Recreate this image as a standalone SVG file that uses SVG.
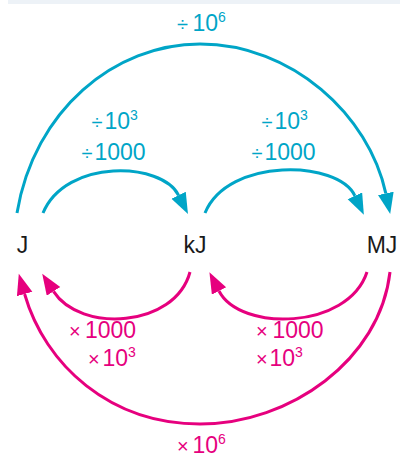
<svg xmlns="http://www.w3.org/2000/svg" width="400" height="458" viewBox="0 0 400 458">
<style>
  .t{font-family:"Liberation Sans",Arial,sans-serif;font-size:23px}
  .unit{fill:#1a1a1a;text-anchor:middle}
  .blue{fill:#00a5c7}
  .pink{fill:#e6007e}
  .sup{font-size:14px}
  .op{font-size:20px}
  .cb{fill:none;stroke:#00a5c7;stroke-width:3}
  .cp{fill:none;stroke:#e6007e;stroke-width:3}
</style>
<defs>
  <marker id="ab" markerUnits="userSpaceOnUse" markerWidth="22" markerHeight="18" refX="0" refY="8" orient="auto">
    <path d="M0,0 L21,8 L0,16 Z" fill="#00a5c7"/>
  </marker>
  <marker id="ap" markerUnits="userSpaceOnUse" markerWidth="22" markerHeight="18" refX="0" refY="8" orient="auto">
    <path d="M0,0 L21,8 L0,16 Z" fill="#e6007e"/>
  </marker>
</defs>
<rect x="8" y="0" width="392" height="4" fill="#edf2f7"/>
<g id="connectors">
  <path class="cb" d="M17,213 C34,110 115,44 200,44 C292,44 369,115 385.8,193.4" marker-end="url(#ab)"/>
  <path class="cb" d="M43,213 C66,158 162,162 178.6,195.3" marker-end="url(#ab)"/>
  <path class="cb" d="M205,213 C228,157 338,160 354.9,195.8" marker-end="url(#ab)"/>
  <path class="cp" d="M190,272 C175,328 80,333 53.5,291.4" marker-end="url(#ap)"/>
  <path class="cp" d="M367,272 C348,330 240,332 219,291" marker-end="url(#ap)"/>
  <path class="cp" d="M390,272 C380,360 290,424 200,424 C110,424 45,365 24.6,294" marker-end="url(#ap)"/>
</g>
<g id="labels">
  <text class="t blue" x="177" y="31"><tspan class="op">÷</tspan><tspan x="192.5">10</tspan><tspan class="sup" dy="-9">6</tspan></text>
  <text class="t blue" x="91.5" y="129"><tspan class="op">÷</tspan><tspan x="104.5">10</tspan><tspan class="sup" dy="-9">3</tspan></text>
  <text class="t blue" x="81.5" y="160"><tspan class="op">÷</tspan><tspan x="94.5">1000</tspan></text>
  <text class="t blue" x="261.5" y="129"><tspan class="op">÷</tspan><tspan x="274.5">10</tspan><tspan class="sup" dy="-9">3</tspan></text>
  <text class="t blue" x="251.5" y="160"><tspan class="op">÷</tspan><tspan x="264.5">1000</tspan></text>
  <text class="t pink" x="69" y="338"><tspan class="op">×</tspan><tspan x="85">1000</tspan></text>
  <text class="t pink" x="88" y="366"><tspan class="op">×</tspan><tspan x="102.5">10</tspan><tspan class="sup" dy="-9">3</tspan></text>
  <text class="t pink" x="256" y="338"><tspan class="op">×</tspan><tspan x="272.5">1000</tspan></text>
  <text class="t pink" x="256" y="366"><tspan class="op">×</tspan><tspan x="269.5">10</tspan><tspan class="sup" dy="-9">3</tspan></text>
  <text class="t pink" x="177" y="453"><tspan class="op">×</tspan><tspan x="192.5">10</tspan><tspan class="sup" dy="-9">6</tspan></text>
</g>
<g id="node-J"><text class="t unit" x="22.5" y="253">J</text></g>
<g id="node-kJ"><text class="t unit" x="195" y="253">kJ</text></g>
<g id="node-MJ"><text class="t unit" x="382" y="253">MJ</text></g>
</svg>
